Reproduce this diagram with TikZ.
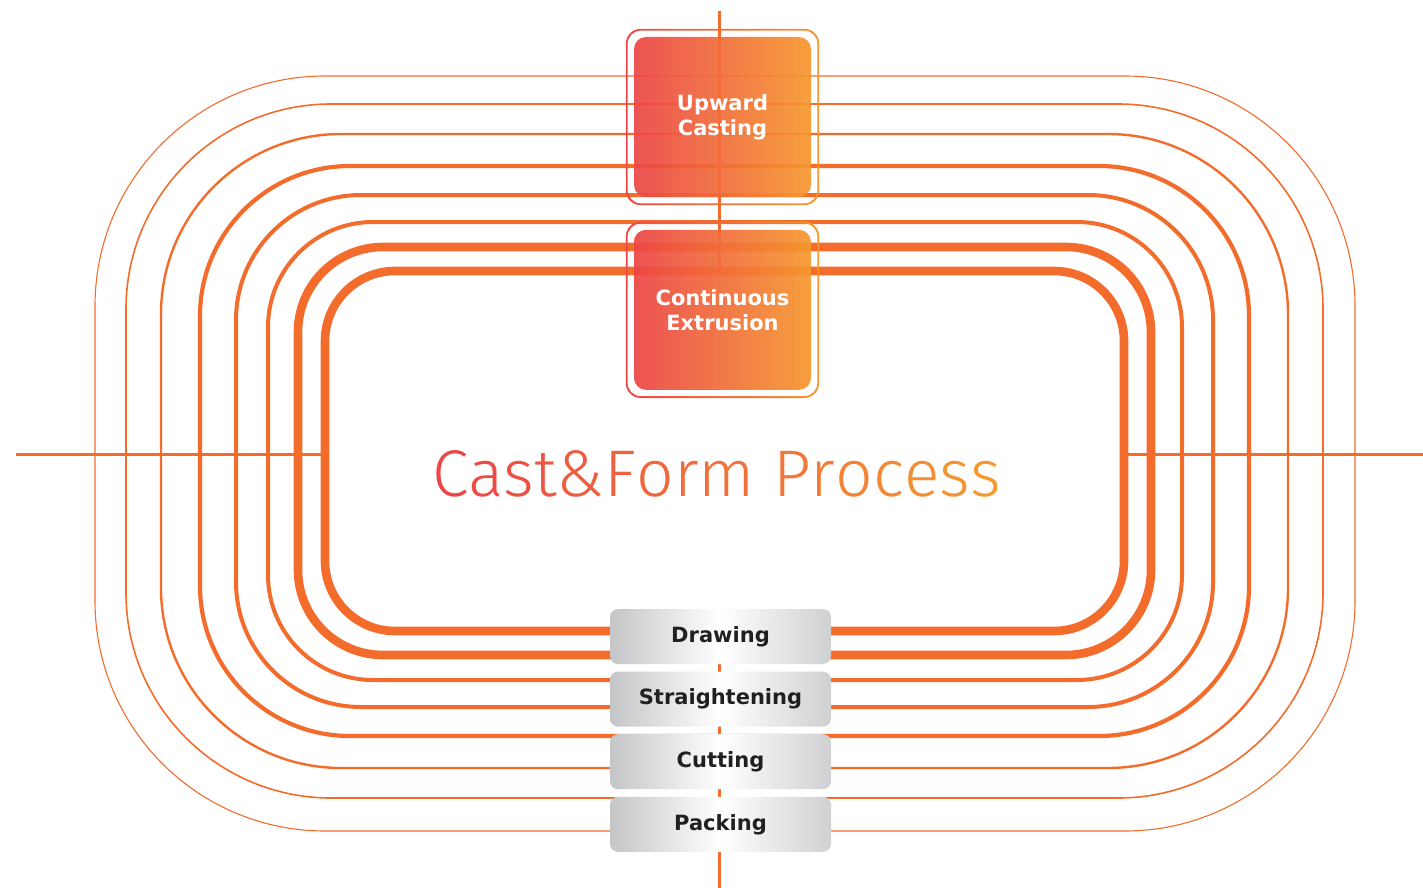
\documentclass[tikz,border=0pt]{standalone}
\usepackage{fontspec}
\setmainfont{DejaVu Sans}
\newfontfamily\titlefont{Fira Sans Light}
\usetikzlibrary{positioning}

\definecolor{track}{HTML}{F36C2B}
\definecolor{castRed}{HTML}{EC4646}
\definecolor{castOrange}{HTML}{F6982F}
\definecolor{steelL}{HTML}{C4C5C7}
\definecolor{steelR}{HTML}{CFD0D2}
\definecolor{label}{HTML}{231F20}

\tikzset{
  hotbox/.style={rounded corners=6pt, left color=castRed, right color=castOrange,
    fill opacity=0.93, text opacity=1, minimum width=88.5pt, minimum height=80pt,
    text=white, align=center, inner sep=0pt,
    font=\bfseries\fontsize{10.5}{12.5}\selectfont},
  coldbox/.style={rounded corners=4pt, left color=steelL, right color=steelR,
    middle color=white, minimum width=110.5pt, minimum height=27.5pt,
    text=label, inner sep=0pt, font=\bfseries\fontsize{10.5}{12.5}\selectfont},
  hotring/.style={left color=castRed, right color=castOrange, even odd rule},
}

\begin{document}
\begin{tikzpicture}[x=0.5pt, y=-0.5pt]
	\useasboundingbox (0,0) rectangle (1423,888);
	
	% Cross lines
	\coordinate (westend) at (16,454);
	\coordinate (eastend) at (1423,454);
	\coordinate (topend) at (719.5,11);
	\coordinate (bottomend) at (719.5,888);
	\draw [track, line width=1.5pt] (westend) -- (eastend);
	\draw [track, line width=1.3pt] (topend) -- (bottomend);
	
	% Inner area
	\fill [white, rounded corners=35pt] (325,271) rectangle (1124,631);
	
	% Track
	\foreach \l/\r/\t/\b/\rad/\w in {
		95/1355/76/831/115/0.55,
		126/1323/104/798/102.5/0.8,
		161/1288/134/768/90/1.2,
		200/1249/166/736/75/2.1,
		236/1213/195/707/62.5/2,
		268/1182/222/680/52.5/2,
		298/1151/247/655/42.5/4.3,
		325/1124/271/631/35/4.3}
	{
		\draw [track, line width=\w pt, rounded corners=\rad pt] (\l,\t) rectangle (\r,\b);
	}
	
	% Casting boxes
	\node [hotbox] (upward) at (722.5,117) {Upward\\Casting};
	\node [hotbox, below=16pt of upward] (extrusion) {Continuous\\Extrusion};
	
	% Rings
	\foreach \cast in {upward, extrusion}
	{
		\shade [hotring]
			[rounded corners=7.5pt] ([shift={(-3.9pt,3.9pt)}]\cast.north west) rectangle ([shift={(3.9pt,-3.9pt)}]\cast.south east)
			[rounded corners=6.6pt] ([shift={(-3pt,3pt)}]\cast.north west) rectangle ([shift={(3pt,-3pt)}]\cast.south east);
	}
	
	% Forming steps
	\node [coldbox] (drawing) at (720.5,636.5) {Drawing};
	\node [coldbox, below=3.4pt of drawing] (straightening) {Straightening};
	\node [coldbox, below=3.4pt of straightening] (cutting) {Cutting};
	\node [coldbox, below=3.4pt of cutting] (packing) {Packing};
	
	% Title
	\node [anchor=base, inner sep=0pt, font=\titlefont\fontsize{33}{40}\selectfont] (title) at (716.5,496)
		{\textcolor{castOrange!0!castRed}{C}\textcolor{castOrange!7!castRed}{a}\textcolor{castOrange!13!castRed}{s}\textcolor{castOrange!20!castRed}{t}\textcolor{castOrange!27!castRed}{\&}\textcolor{castOrange!33!castRed}{F}\textcolor{castOrange!40!castRed}{o}\textcolor{castOrange!47!castRed}{r}\textcolor{castOrange!53!castRed}{m}
		\textcolor{castOrange!60!castRed}{P}\textcolor{castOrange!67!castRed}{r}\textcolor{castOrange!73!castRed}{o}\textcolor{castOrange!80!castRed}{c}\textcolor{castOrange!87!castRed}{e}\textcolor{castOrange!93!castRed}{s}\textcolor{castOrange!100!castRed}{s}};
	
\end{tikzpicture}
\end{document}
